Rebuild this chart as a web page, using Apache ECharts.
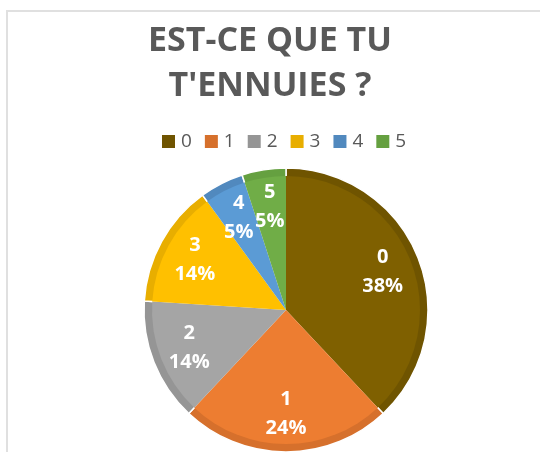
<!DOCTYPE html>
<html>
<head>
<meta charset="utf-8">
<script src="https://cdn.jsdelivr.net/npm/echarts@6/dist/echarts.min.js"></script>
<style>
    html, body { margin: 0; padding: 0; background: #fff; }
    #frame { position: absolute; left: 6px; top: 10px; width: 540px; height: 450px;
        border-top: 2px solid #e0e0e0; border-left: 2px solid #e0e0e0; }
    #main { position: absolute; left: 0; top: 0; width: 540px; height: 452px; }
</style>
</head>
<body>
<div id="frame"></div>
<div id="main"></div>
<script>
// answers to "est-ce que tu t'ennuies ?"
const categories = ['0', '1', '2', '3', '4', '5'];
const percents = [38, 24, 14, 14, 5, 5];
const fillColors = ['#7F6000', '#ED7D31', '#A5A5A5', '#FFC000', '#5B9BD5', '#70AD47'];
const edgeColors = ['#6F5400', '#D6702C', '#959595', '#E8AE00', '#5189BE', '#65A040'];

const chart = echarts.init(document.getElementById('main'));

const pieData = (colors) => categories.map((c, i) => ({
    name: c,
    value: percents[i],
    itemStyle: { color: colors[i] }
}));

const pieBase = {
    type: 'pie',
    center: [286, 310],
    startAngle: 90,
    clockwise: true,
    avoidLabelOverlap: false,
    labelLine: { show: false }
};

chart.setOption({
    animation: false,
    title: {
        text: "EST-CE QUE TU\nT'ENNUIES ?",
        left: 'center',
        top: 14,
        textStyle: {
            fontFamily: 'Open Sans',
            fontWeight: 'bold',
            fontSize: 34,
            lineHeight: 45,
            color: '#595959'
        }
    },
    legend: {
        top: 127,
        left: 155,
        itemWidth: 15,
        itemHeight: 15,
        itemGap: 11,
        icon: 'rect',
        data: categories.map((c, i) => ({ name: c, itemStyle: { color: edgeColors[i] } })),
        textStyle: { fontFamily: 'Open Sans', fontSize: 19, color: '#595959' }
    },
    series: [
        Object.assign({}, pieBase, {
            radius: [0, 142],
            silent: true,
            label: { show: false },
            itemStyle: { borderColor: '#fff', borderWidth: 1.5 },
            data: pieData(edgeColors)
        }),
        Object.assign({}, pieBase, {
            radius: [0, 134],
            silent: true,
            label: { show: false },
            itemStyle: { borderWidth: 0 },
            data: pieData(fillColors)
        }),
        // transparent ring, only used to place the labels further out
        Object.assign({}, pieBase, {
            radius: [66, 136],
            silent: true,
            itemStyle: { color: 'rgba(0,0,0,0)', borderWidth: 0 },
            label: {
                show: true,
                position: 'inside',
                formatter: (p) => p.name + '\n' + p.value + '%',
                color: '#fff',
                fontFamily: 'Open Sans',
                fontWeight: 'bold',
                fontSize: 20,
                lineHeight: 29
            },
            data: categories.map((c, i) => ({ name: c, value: percents[i] }))
        })
    ]
});
</script>
</body>
</html>
